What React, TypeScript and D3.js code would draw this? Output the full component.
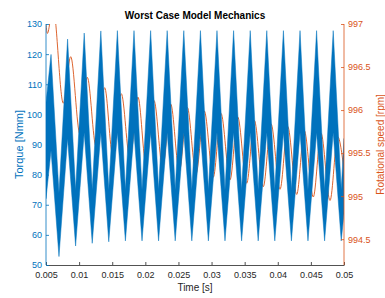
import React, { useEffect, useRef } from "react";
import * as d3 from "d3";

// axis ticks
const timeTicks = [0.005, 0.01, 0.015, 0.02, 0.025, 0.03, 0.035, 0.04, 0.045, 0.05];
const torqueTicks = [50, 60, 70, 80, 90, 100, 110, 120, 130];
const speedTicks = [994.5, 995, 995.5, 996, 996.5, 997];

// torque envelope (the dense ripple is drawn as a band)
const spikeTimes = [0.00576, 0.00826, 0.01077, 0.01328, 0.01578, 0.01829, 0.0208, 0.0233, 0.02581, 0.02832, 0.03082, 0.03333, 0.03584, 0.03834, 0.04085, 0.04336, 0.04586, 0.04837];
const spikeTop = [119.9, 125.0, 127.0, 127.7, 127.8, 127.8, 127.8, 127.8, 127.8, 127.8, 127.8, 127.8, 127.8, 127.8, 127.8, 127.8, 127.8, 127.8];
const spikeBase = [88, 92, 94, 94, 94, 94, 94, 94, 94, 94, 94, 94, 94, 94, 94, 94, 94, 94];
const dipTimes = [0.00696, 0.00947, 0.01198, 0.01448, 0.01699, 0.0195, 0.022, 0.02451, 0.02702, 0.02952, 0.03203, 0.03454, 0.03704, 0.03955, 0.04206, 0.04456, 0.04707, 0.04958];
const dipBottom = [52.8, 56.3, 57.2, 57.7, 58.0, 58.0, 58.0, 58.0, 58.0, 58.0, 58.0, 58.0, 58.0, 58.0, 58.0, 58.0, 58.0, 58.0];
const dipTop = [74, 75, 75, 75, 75, 75, 75, 75, 75, 75, 75, 75, 75, 75, 75, 75, 75, 75];
const edgeTimes = [0.005, 0.05];
const edgeUpper = [104, 92];
const edgeLower = [72, 67];

// rotational speed, peaks and troughs
const speedTimes = [0.005, 0.0052, 0.00606, 0.00761, 0.00873, 0.01013, 0.01124, 0.01255, 0.01386, 0.01507, 0.01637, 0.01768, 0.01889, 0.0201, 0.02131, 0.02262, 0.02383, 0.02513, 0.02634, 0.02765, 0.0289, 0.03026, 0.03143, 0.03279, 0.03395, 0.03531, 0.03646, 0.03781, 0.03898, 0.04034, 0.0415, 0.04286, 0.04401, 0.04536, 0.04653, 0.04789, 0.04905, 0.05];
const speedValues = [997.0, 996.89, 997.2, 996.08, 996.62, 995.72, 996.38, 995.58, 996.26, 995.48, 996.19, 995.43, 996.15, 995.37, 996.11, 995.33, 996.07, 995.29, 996.03, 995.26, 995.99, 995.22, 995.96, 995.19, 995.92, 995.15, 995.88, 995.11, 995.84, 995.08, 995.81, 995.02, 995.76, 994.99, 995.73, 994.95, 995.69, 995.3];

const W = 385;
const H = 298;
const M = { left: 46, right: 344, top: 24, bottom: 265 };
const BLUE = "#0072BD";
const ORANGE = "#D95319";
const GREY = "#262626";
const FONT = "'Liberation Sans', Arial, Helvetica, sans-serif";

export default function App() {
  const ref = useRef<SVGSVGElement>(null);

  useEffect(() => {
    if (!ref.current) return;
    const svg = d3.select(ref.current);
    svg.selectAll("*").remove();

    const x = d3.scaleLinear().domain([0.005, 0.05]).range([M.left, M.right]);
    const yT = d3.scaleLinear().domain([50, 130]).range([M.bottom, M.top]);
    const yS = d3.scaleLinear().domain([994.2, 997]).range([M.bottom, M.top]);

    svg.append("defs").append("clipPath").attr("id", "plot")
      .append("rect")
      .attr("x", M.left).attr("y", M.top)
      .attr("width", M.right - M.left).attr("height", M.bottom - M.top);

    const g = svg.append("g").attr("clip-path", "url(#plot)");

    // rotational speed sits behind the torque trace
    const speed = speedTimes.map((t, i) => [t, speedValues[i]] as [number, number]);
    g.append("path")
      .attr("fill", "none")
      .attr("stroke", ORANGE)
      .attr("stroke-width", 0.9)
      .attr("d", d3.line().x(d => x(d[0])).y(d => yS(d[1])).curve(d3.curveMonotoneX)(speed));

    // torque band
    const rows: { t: number; hi: number; lo: number }[] = [];
    rows.push({ t: edgeTimes[0], hi: edgeUpper[0], lo: edgeLower[0] });
    spikeTimes.forEach((t, i) => {
      rows.push({ t, hi: spikeTop[i], lo: spikeBase[i] });
      rows.push({ t: dipTimes[i], hi: dipTop[i], lo: dipBottom[i] });
    });
    rows.push({ t: edgeTimes[1], hi: edgeUpper[1], lo: edgeLower[1] });
    rows.sort((a, b) => a.t - b.t);

    g.append("path")
      .datum(rows)
      .attr("fill", BLUE)
      .attr("stroke", BLUE)
      .attr("stroke-width", 0.5)
      .attr("d", d3.area<{ t: number; hi: number; lo: number }>()
        .x(d => x(d.t)).y0(d => yT(d.lo)).y1(d => yT(d.hi))(rows));

    // axes
    const styleAxis = (sel: d3.Selection<SVGGElement, unknown, null, undefined>, color: string) => {
      sel.selectAll("path").attr("stroke", color).attr("stroke-width", 0.8);
      sel.selectAll("line").attr("stroke", color).attr("stroke-width", 0.8);
      sel.selectAll("text").attr("fill", color).style("font-family", FONT).style("font-size", "9px");
    };

    const gx = svg.append("g").attr("transform", `translate(0,${M.bottom})`)
      .call(d3.axisBottom(x).tickValues(timeTicks).tickSizeInner(-3).tickSizeOuter(0).tickPadding(7).tickFormat(d => String(d)));
    styleAxis(gx, GREY);

    const gl = svg.append("g").attr("transform", `translate(${M.left},0)`)
      .call(d3.axisLeft(yT).tickValues(torqueTicks).tickSizeInner(-3).tickSizeOuter(0).tickPadding(4).tickFormat(d => String(d)));
    styleAxis(gl, BLUE);

    const gr = svg.append("g").attr("transform", `translate(${M.right},0)`)
      .call(d3.axisRight(yS).tickValues(speedTicks).tickSizeInner(-3).tickSizeOuter(0).tickPadding(4).tickFormat(d => String(d)));
    styleAxis(gr, ORANGE);
    gr.select("path.domain").attr("d", `M0,${M.bottom}V${M.top}`);
    gl.select("path.domain").attr("d", `M0,${M.bottom}V${M.top}`);

    // titles
    svg.append("text")
      .attr("x", (M.left + M.right) / 2).attr("y", 18.5)
      .attr("text-anchor", "middle")
      .style("font-family", FONT).style("font-size", "10px").style("font-weight", "bold")
      .attr("fill", "#000")
      .text("Worst Case Model Mechanics");

    svg.append("text")
      .attr("x", (M.left + M.right) / 2).attr("y", 291)
      .attr("text-anchor", "middle")
      .style("font-family", FONT).style("font-size", "10px")
      .attr("fill", GREY)
      .text("Time [s]");

    svg.append("text")
      .attr("transform", `translate(18.5,${(M.top + M.bottom) / 2}) rotate(-90)`)
      .attr("text-anchor", "middle").attr("dominant-baseline", "central")
      .style("font-family", FONT).style("font-size", "11px")
      .attr("fill", BLUE)
      .text("Torque [Nmm]");

    svg.append("text")
      .attr("transform", `translate(380.5,${(M.top + M.bottom) / 2}) rotate(-90)`)
      .attr("text-anchor", "middle").attr("dominant-baseline", "central")
      .style("font-family", FONT).style("font-size", "10px")
      .attr("fill", ORANGE)
      .text("Rotational speed [rpm]");
  }, []);

  return (
    <svg ref={ref} width={W} height={H}
      style={{ position: "absolute", left: 0, top: 0, background: "#fff" }} />
  );
}
